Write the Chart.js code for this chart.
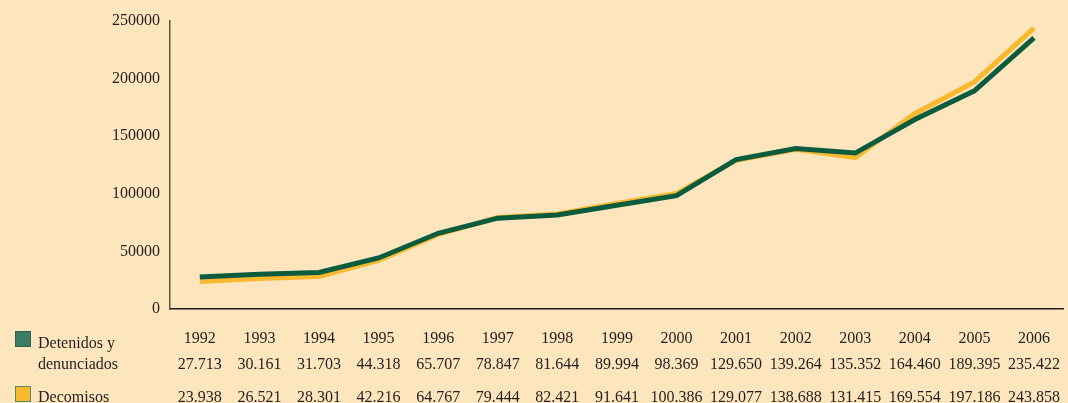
<!DOCTYPE html>
<html>
<head>
<meta charset="utf-8">
<script src="https://cdn.jsdelivr.net/npm/chart.js@4"></script>
<style>
  html, body { margin: 0; padding: 0; background: #fde6bd; overflow: hidden; }
  #wrap { width: 1070px; height: 403px; position: relative; }
</style>
</head>
<body>
<div id="wrap"><canvas id="chart"></canvas></div>
<script>
const years = ["1992", "1993", "1994", "1995", "1996", "1997", "1998", "1999", "2000", "2001", "2002", "2003", "2004", "2005", "2006"];
const detenidos = [27713, 30161, 31703, 44318, 65707, 78847, 81644, 89994, 98369, 129650, 139264, 135352, 164460, 189395, 235422];
const decomisos = [23938, 26521, 28301, 42216, 64767, 79444, 82421, 91641, 100386, 129077, 138688, 131415, 169554, 197186, 243858];
const yTicks = [0, 50000, 100000, 150000, 200000, 250000];
const seriesNames = [["Detenidos y", "denunciados"], ["Decomisos"]];

const FONT = '"Liberation Serif", "Times New Roman", serif';
const TEXT = "#231f20";
const GREEN = "#0b5b3f";
const YELLOW = "#f9b92e";

// 27713 -> "27.713"
const fmt = (n) => String(n).replace(/\B(?=(\d{3})+(?!\d))/g, ".");

// tabla de valores y leyenda debajo del eje x
const tablePlugin = {
  id: "tabla",
  afterDraw(chart) {
    const ctx = chart.ctx;
    const x = chart.scales.x;
    ctx.save();
    ctx.font = "16px " + FONT;
    ctx.fillStyle = TEXT;
    ctx.textAlign = "center";
    ctx.textBaseline = "alphabetic";
    years.forEach((yr, i) => {
      const px = x.getPixelForValue(i);
      ctx.fillText(fmt(detenidos[i]), px, 369);
      ctx.fillText(fmt(decomisos[i]), px, 402);
    });

    // cuadritos de la leyenda
    ctx.lineWidth = 1;
    ctx.fillStyle = "#3d7b64";
    ctx.fillRect(15, 331, 16, 16);
    ctx.strokeStyle = "#2f6652";
    ctx.strokeRect(15.5, 331.5, 15, 15);
    ctx.fillStyle = YELLOW;
    ctx.fillRect(15, 386, 16, 16);
    ctx.strokeStyle = "#5d8766";
    ctx.strokeRect(15.5, 386.5, 15, 15);

    ctx.fillStyle = TEXT;
    ctx.textAlign = "left";
    ctx.fillText(seriesNames[0][0], 38, 348);
    ctx.fillText(seriesNames[0][1], 38, 369);
    ctx.fillText(seriesNames[1][0], 38, 402);
    ctx.restore();
  }
};

const ctx = document.getElementById("chart").getContext("2d");
new Chart(ctx, {
  type: "line",
  data: {
    labels: years,
    datasets: [
      {
        label: seriesNames[0].join(" "),
        data: detenidos,
        borderColor: GREEN,
        backgroundColor: GREEN,
        borderWidth: 5,
        pointRadius: 0,
        tension: 0,
        fill: false,
      },
      {
        label: seriesNames[1][0],
        data: decomisos,
        borderColor: YELLOW,
        backgroundColor: YELLOW,
        borderWidth: 5,
        pointRadius: 0,
        tension: 0,
        fill: false,
      },
    ],
  },
  options: {
    responsive: true,
    maintainAspectRatio: false,
    animation: false,
    layout: { padding: { top: 21, right: 0, bottom: 0, left: 0 } },
    plugins: {
      legend: { display: false },
      tooltip: { enabled: false },
    },
    scales: {
      x: {
        offset: true,
        grid: { display: false, drawTicks: false },
        border: { display: true, color: TEXT, width: 1.5 },
        ticks: {
          color: TEXT,
          font: { family: FONT, size: 16 },
          padding: 20,
          maxRotation: 0,
          autoSkip: false,
        },
        afterFit(scale) { scale.height = 94; },
      },
      y: {
        min: 0,
        max: 250000,
        grid: { display: false, drawTicks: false },
        border: { display: true, color: "#5b5445", width: 1.5 },
        afterBuildTicks(scale) { scale.ticks = yTicks.map((v) => ({ value: v })); },
        ticks: {
          color: TEXT,
          font: { family: FONT, size: 16 },
          padding: 10,
          callback: (v) => String(v),
        },
        afterFit(scale) { scale.width = 170; },
      },
    },
  },
  plugins: [tablePlugin],
});
</script>
</body>
</html>
